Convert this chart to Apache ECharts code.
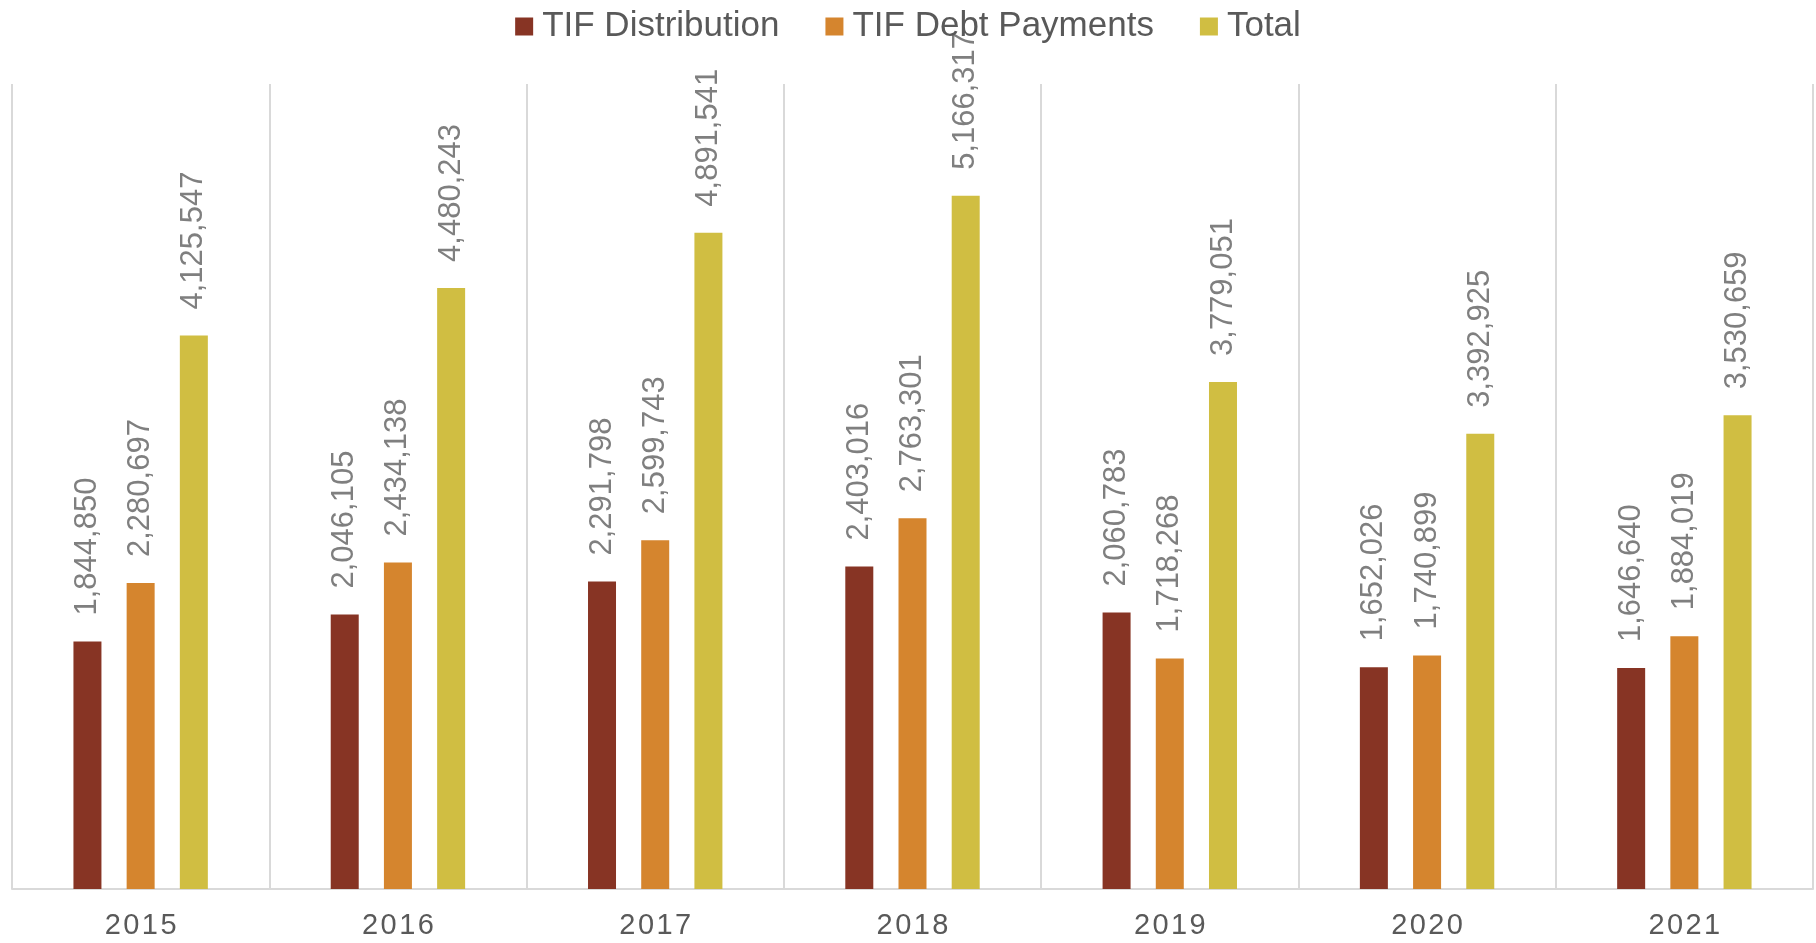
<!DOCTYPE html>
<html>
<head>
<meta charset="utf-8">
<script src="https://cdn.jsdelivr.net/npm/echarts@6/dist/echarts.min.js"></script>
<style>
  html, body { margin: 0; padding: 0; background: #fff; }
  #chart { width: 1816px; height: 943px; }
</style>
</head>
<body>
<div id="chart"></div>
<script>
// data
var years = ['2015', '2016', '2017', '2018', '2019', '2020', '2021'];
var tifDistribution = [1844850, 2046105, 2291798, 2403016, 2060783, 1652026, 1646640];
var tifDebtPayments = [2280697, 2434138, 2599743, 2763301, 1718268, 1740899, 1884019];
var totals = [4125547, 4480243, 4891541, 5166317, 3779051, 3392925, 3530659];

var font = '"Liberation Sans", Arial, sans-serif';

function fmt(p) {
  return p.value.toLocaleString('en-US');
}

var labelStyle = {
  show: true,
  position: 'top',
  rotate: 90,
  align: 'left',
  verticalAlign: 'middle',
  distance: 26,
  color: '#7f7f7f',
  fontFamily: font,
  fontSize: 31,
  formatter: fmt
};

function bar(name, data, color) {
  return {
    name: name,
    type: 'bar',
    data: data,
    barWidth: 28,
    barGap: '90%',
    itemStyle: { color: color },
    label: labelStyle
  };
}

var myChart = echarts.init(document.getElementById('chart'));
myChart.setOption({
  animation: false,
  legend: {
    top: 4,
    left: 'center',
    itemWidth: 18,
    itemHeight: 18,
    itemGap: 46,
    icon: 'rect',
    textStyle: { color: '#595959', fontFamily: font, fontSize: 35, padding: [0, 0, 0, 4] },
    data: ['TIF Distribution', 'TIF Debt Payments', 'Total']
  },
  grid: { left: 12, right: 3, top: 84, bottom: 54, containLabel: false },
  xAxis: {
    type: 'category',
    data: years,
    axisLine: { lineStyle: { color: '#d9d9d9', width: 2 } },
    axisTick: { show: false },
    splitLine: { show: true, lineStyle: { color: '#d9d9d9', width: 2 } },
    axisLabel: {
      color: '#595959', fontFamily: font, fontSize: 29, margin: 22,
      // spaced digits like the source
      formatter: function (v) { return v.split('').join('\u200a'); }
    }
  },
  yAxis: {
    type: 'value',
    min: 0,
    max: 6000000,
    show: false,
    splitLine: { show: false }
  },
  series: [
    bar('TIF Distribution', tifDistribution, '#873424'),
    bar('TIF Debt Payments', tifDebtPayments, '#d5852e'),
    bar('Total', totals, '#d0be42')
  ]
});
</script>
</body>
</html>
